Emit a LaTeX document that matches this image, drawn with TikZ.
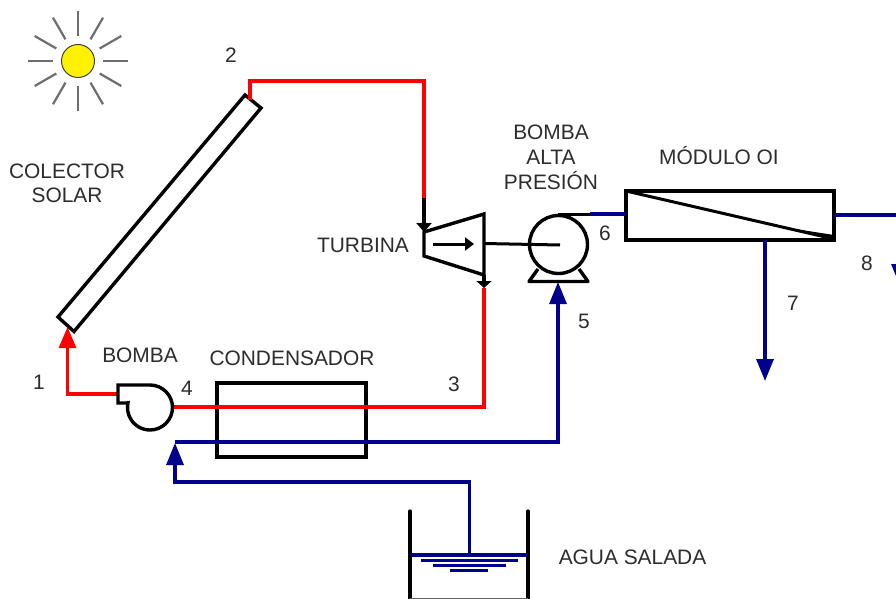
\documentclass[tikz,border=0pt]{standalone}
\usepackage{fontspec}
\setmainfont{Liberation Sans}
\usetikzlibrary{arrows.meta}
\definecolor{hotred}{RGB}{255,0,0}
\definecolor{navyblue}{RGB}{0,0,140}
\definecolor{txtgray}{RGB}{45,45,45}
\definecolor{raygray}{RGB}{110,110,110}
\tikzset{
  x=1pt,y=-1pt,
  lbl/.style={inner sep=0pt,text=txtgray,align=center,font=\fontsize{20.9}{25}\selectfont},
  part/.style={draw=black,line width=3.4pt,line join=miter},
  hotline/.style={draw=hotred,line width=3.2pt,line join=miter},
  coldline/.style={draw=navyblue,line width=3.2pt,line join=miter},
  hothead/.style={-{Triangle[length=21pt,width=17pt,fill=hotred]}},
  coldhead/.style={-{Triangle[length=22pt,width=17pt,fill=navyblue]}},
  smallhead/.style={-{Triangle[length=9pt,width=15pt,fill=black]}},
  flathead/.style={-{Triangle[length=7pt,width=15pt,fill=black]}},
  ray/.style={draw=raygray,line width=2.2pt},
}
\begin{document}
\begin{tikzpicture}
\useasboundingbox (0,0) rectangle (896,599);
\fill[white] (0,0) rectangle (896,599);

% named points
\coordinate (collTop) at (250,100);
\coordinate (collBot) at (67.5,327);
\coordinate (c2) at (250,81);
\coordinate (c3) at (424,81);
\coordinate (turbIn) at (424,198);
\coordinate (turbInTip) at (424,232);
\coordinate (turbOut) at (484,275);
\coordinate (turbOutTip) at (484,288);
\coordinate (c4) at (484,407);
\coordinate (pumpOut) at (174,407);
\coordinate (pumpIn) at (118,394);
\coordinate (c1) at (67.5,394);
\coordinate (c5) at (175,442);
\coordinate (c6) at (558,442);
\coordinate (hpIn) at (558,282);
\coordinate (tankTop) at (469.5,555);
\coordinate (c7) at (469.5,482);
\coordinate (c8) at (175,482);
\coordinate (c9) at (175,443);
\coordinate (hpOutA) at (558,214);
\coordinate (hpOutB) at (590,214);
\coordinate (modIn) at (626,214);
\coordinate (modOut) at (834,215);
\coordinate (c10) at (900,215);
\coordinate (c11) at (900,286);
\coordinate (modBot) at (765,240);
\coordinate (c12) at (765,381);

% sun
\node[circle,draw=black!75,line width=1pt,fill=yellow,minimum size=33pt,inner sep=0pt] (sun) at (78,61) {};
\foreach \a in {0,30,...,330}
  \draw[ray] (sun.center) ++(\a:25pt) -- ++(\a:25pt);

% collector
\draw[part] (245,95) -- (261,108) -- (74,331.5) -- (58,317) -- cycle;

% boxes
\node[part,fill=none,minimum width=149pt,minimum height=74pt,inner sep=0pt] (cond) at (291.5,420) {};
\node[part,fill=none,minimum width=208pt,minimum height=49pt,inner sep=0pt] (mod) at (730,215.5) {};
\draw[part,line width=3pt] (626,191) -- (834,239);
\fill (834,240) -- (795,229) -- (834,235) -- cycle;

% red circuit
\draw[hotline] (collTop) -- (c2) -- (c3) -- (turbIn);
\draw[hotline] (turbOutTip) -- (c4) -- (pumpOut);
\draw[hotline,hothead] (pumpIn) -- (c1) -- (collBot);

% turbine
\draw[part] (424,232) -- (484,214) -- (484,275) -- (424,256) -- cycle;
\draw[part,smallhead] (turbIn) -- (turbInTip);
\draw[part,flathead] (turbOut) -- (turbOutTip);
\draw[part,line width=3pt,-{Triangle[length=9pt,width=13pt,fill=black]}] (433,244) -- (474,244);

% high pressure pump
\node[circle,part,fill=none,minimum size=58pt,inner sep=0pt] (hp) at (558.5,244.5) {};
\draw[part,line width=3pt] (484,243.5) -- (560,245);
\draw[part,line width=3.4pt,line join=round] (538,269) -- (529,281.5) -- (588,281.5) -- (579,269);
\draw[part,line width=3pt] (hpOutA) -- (hpOutB);

% low pressure pump
\draw[part] (118,385) -- (150,385) arc[start angle=90,delta angle=-282,radius=22.5pt] -- (127,403) -- (118,403) -- cycle;

% blue circuit
\draw[coldline,coldhead] (c5) -- (c6) -- (hpIn);
\draw[coldline,coldhead] (tankTop) -- (c7) -- (c8) -- (c9);
\draw[coldline] (hpOutB) -- (modIn);
\draw[coldline,coldhead] (modBot) -- (c12);
\begin{scope}
\clip (0,0) rectangle (896,599);
\draw[coldline,coldhead] (modOut) -- (c10) -- (c11);
\end{scope}

% tank
\draw[draw=black,line width=3.2pt,line cap=round] (410,511) -- (410,599);
\draw[draw=black,line width=3.2pt,line cap=round] (528,511) -- (528,599);
\draw[draw=black!60,line width=1.4pt] (410,598.3) -- (528,598.3);
\draw[coldline,line width=3.6pt] (411,555) -- (527,555);
\draw[coldline,line width=3.6pt] (421,560.5) -- (518,560.5);
\draw[coldline,line width=3.6pt] (433,565.5) -- (506,565.5);
\draw[coldline,line width=3.6pt] (450,570.5) -- (488,570.5);

% labels
\node[lbl] (lsolar) at (67,183) {COLECTOR\\[-1pt]SOLAR};
\node[lbl] (l2) at (231,55) {2};
\node[lbl] (l1) at (39,382) {1};
\node[lbl] (l4) at (187,388) {4};
\node[lbl] (lbomba) at (140,355) {BOMBA};
\node[lbl] (lcond) at (292,358) {CONDENSADOR};
\node[lbl] (l3) at (454,384) {3};
\node[lbl] (lturb) at (363,245) {TURBINA};
\node[lbl] (lhp) at (551,157) {BOMBA\\ALTA\\PRESIÓN};
\node[lbl] (lmod) at (719,156) {MÓDULO OI};
\node[lbl] (l6) at (605,233) {6};
\node[lbl] (l8) at (867,263) {8};
\node[lbl] (l7) at (793,303) {7};
\node[lbl] (l5) at (584,321) {5};
\node[lbl] (lagua) at (632.5,557) {AGUA SALADA};
\end{tikzpicture}
\end{document}
